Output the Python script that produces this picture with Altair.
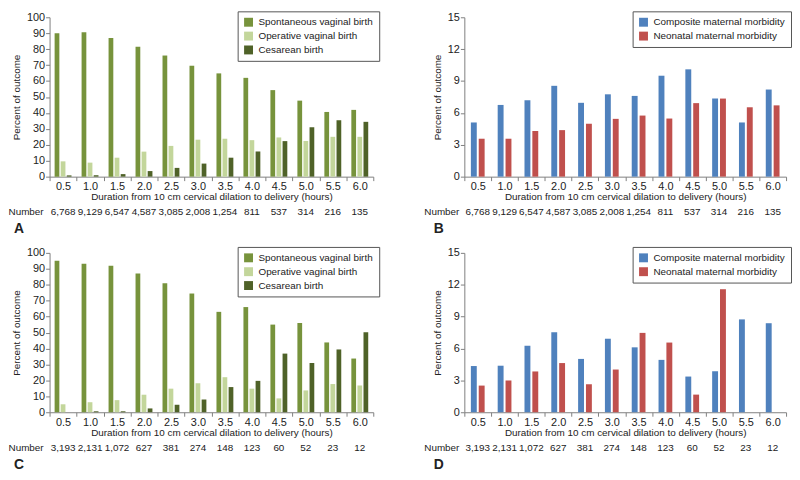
import altair as alt
import pandas as pd

cats = ["0.5", "1.0", "1.5", "2.0", "2.5", "3.0", "3.5", "4.0", "4.5", "5.0", "5.5", "6.0"]

birth_series = ["Spontaneous vaginal birth", "Operative vaginal birth", "Cesarean birth"]
birth_colors = ["#77933C", "#C3D69B", "#4F6228"]
morb_series = ["Composite maternal morbidity", "Neonatal maternal morbidity"]
morb_colors = ["#4F81BD", "#C0504D"]

# Panel A
a_spont = [90.0, 90.6, 87.0, 81.5, 76.0, 69.6, 64.8, 62.0, 54.3, 47.7, 40.6, 41.9]
a_oper = [9.6, 8.8, 11.9, 15.7, 19.3, 23.2, 23.8, 22.9, 24.6, 22.4, 25.0, 25.0]
a_ces = [0.8, 0.9, 1.6, 3.5, 5.5, 8.2, 11.9, 15.8, 22.3, 31.0, 35.4, 34.4]
# Panel B
b_comp = [5.1, 6.75, 7.2, 8.55, 6.95, 7.75, 7.6, 9.5, 10.1, 7.35, 5.1, 8.2]
b_neo = [3.57, 3.57, 4.3, 4.38, 4.99, 5.44, 5.75, 5.47, 6.92, 7.35, 6.53, 6.71]
# Panel C
c_spont = [95.0, 93.2, 92.0, 87.0, 81.0, 74.5, 63.0, 66.0, 55.0, 56.0, 43.8, 33.7]
c_oper = [5.0, 6.3, 7.6, 11.0, 14.8, 18.2, 22.0, 14.8, 8.7, 13.7, 17.7, 16.8]
c_ces = [0.0, 0.6, 0.6, 2.4, 4.7, 8.0, 15.8, 19.7, 36.8, 30.9, 39.4, 50.2]
# Panel D
d_comp = [4.35, 4.38, 6.26, 7.53, 5.02, 6.92, 6.11, 4.93, 3.36, 3.87, 8.74, 8.38]
d_neo = [2.51, 2.99, 3.84, 4.63, 2.63, 4.02, 7.47, 6.56, 1.66, 11.58, None, None]

numbers_top = ["6,768", "9,129", "6,547", "4,587", "3,085", "2,008", "1,254", "811", "537", "314", "216", "135"]
numbers_bottom = ["3,193", "2,131", "1,072", "627", "381", "274", "148", "123", "60", "52", "23", "12"]

H = 161
FONT = "Liberation Sans"
TXT = "#222222"
GRAY = "#808080"
XTITLE = "Duration from 10 cm cervical dilation to delivery (hours)"


def panel(series, colors, values_list, numbers, letter, ymax, ystep, width,
          legend_x, pi, po, num_x, letter_x):
    rows = []
    for s, vals in zip(series, values_list):
        for c, v in zip(cats, vals):
            rows.append({"cat": c, "series": s, "value": v})
    df = pd.DataFrame(rows)
    x = alt.X("cat:N", sort=cats,
              scale=alt.Scale(domain=cats, paddingInner=0, paddingOuter=0),
              axis=alt.Axis(title=XTITLE, labelAngle=0, tickBand="extent", tickSize=4,
                            labelPadding=0, titlePadding=0, labelFontSize=11,
                            titleFontSize=10, titleFontWeight="normal",
                            domainColor=GRAY, tickColor=GRAY, labelColor=TXT,
                            titleColor=TXT, grid=False))
    bars = alt.Chart(df).mark_bar().encode(
        x=x,
        xOffset=alt.XOffset("series:N", sort=series,
                            scale=alt.Scale(domain=series, paddingInner=pi, paddingOuter=po)),
        y=alt.Y("value:Q", scale=alt.Scale(domain=[0, ymax], nice=False),
                axis=alt.Axis(values=list(range(0, ymax + 1, ystep)), title="Percent of outcome",
                              tickSize=4, labelPadding=1, titlePadding=5, labelFontSize=11,
                              titleFontSize=10, titleFontWeight="normal",
                              domainColor=GRAY, tickColor=GRAY, labelColor=TXT,
                              titleColor=TXT, grid=False)),
        color=alt.Color("series:N", sort=series,
                        scale=alt.Scale(domain=series, range=colors),
                        legend=alt.Legend(orient="none", legendX=legend_x, legendY=-6,
                                          title=None, direction="vertical",
                                          symbolType="square", symbolSize=81,
                                          symbolStrokeWidth=0, labelFontSize=10,
                                          labelColor=TXT, strokeColor="#555555",
                                          padding=6, rowPadding=4, labelOffset=5,
                                          fillColor="white", symbolOpacity=1)),
    )
    ndf = pd.DataFrame({"cat": cats, "n": numbers})
    nums = alt.Chart(ndf).mark_text(fontSize=10, color=TXT, baseline="middle").encode(
        x=x, y=alt.value(H + 36), text="n:N")
    lab = alt.Chart(pd.DataFrame({"t": ["Number"]})).mark_text(
        fontSize=10, color=TXT, align="right", baseline="middle").encode(
        x=alt.value(num_x), y=alt.value(H + 36), text="t:N")
    let = alt.Chart(pd.DataFrame({"t": [letter]})).mark_text(
        fontSize=14, fontWeight="bold", color=TXT, align="left", baseline="alphabetic").encode(
        x=alt.value(letter_x), y=alt.value(H + 57), text="t:N")
    return alt.layer(bars, nums, lab, let).properties(width=width, height=H)


WL = 327
WR = 325
pA = panel(birth_series, birth_colors, [a_spont, a_oper, a_ces], numbers_top, "A",
           100, 10, WL, 190, 0.22, 0.83, -6, -36)
pB = panel(morb_series, morb_colors, [b_comp, b_neo], numbers_top, "B",
           15, 3, WR, 170, 0.25, 0.83, -5, -31)
pC = panel(birth_series, birth_colors, [c_spont, c_oper, c_ces], numbers_bottom, "C",
           100, 10, WL, 190, 0.22, 0.83, -6, -36)
pD = panel(morb_series, morb_colors, [d_comp, d_neo], numbers_bottom, "D",
           15, 3, WR, 170, 0.25, 0.83, -5, -31)

res = dict(x="independent", y="independent", color="independent", xOffset="independent")
row1 = alt.hconcat(pA, pB, spacing=44).resolve_scale(**res)
row2 = alt.hconcat(pC, pD, spacing=44).resolve_scale(**res)
chart = alt.vconcat(row1, row2, spacing=10).resolve_scale(**res).properties(
    padding=0
).configure(font=FONT).configure_view(stroke=None)

chart.save("out.html", embed_options={"renderer": "svg", "actions": False})
